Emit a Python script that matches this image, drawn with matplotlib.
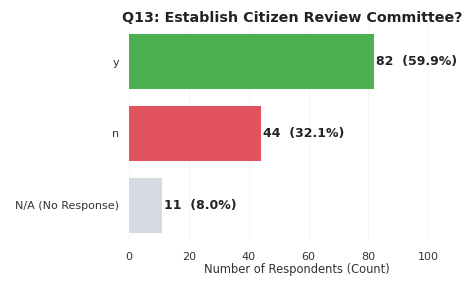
import matplotlib.pyplot as plt

categories = ['y', 'n', 'N/A (No Response)']
counts = [82, 44, 11]
percents = [59.9, 32.1, 8.0]
colors = ['#4caf50', '#e0525e', '#d6d9e2']
xticks = [0, 20, 40, 60, 80, 100]

fig = plt.figure(figsize=(4.72, 2.82), dpi=100)
ax = fig.add_axes([0.2733, 0.1454, 0.71, 0.7624])

ypos = list(range(len(categories)))
ax.barh(ypos, counts, height=0.77, color=colors)
ax.set_yticks(ypos)
ax.set_yticklabels(categories, fontsize=8, color='#333333')
ax.set_ylim(2.5, -0.5)
ax.set_xlim(0, 112)
ax.set_xticks(xticks)
ax.tick_params(axis='x', labelsize=8, colors='#333333', length=0, pad=8)
ax.tick_params(axis='y', length=0, pad=7)
ax.grid(axis='x', color='#f5f5f5', linewidth=0.6)
ax.set_axisbelow(True)
for s in ax.spines.values():
    s.set_visible(False)

for i, (c, p) in enumerate(zip(counts, percents)):
    ax.annotate(f'{c}  ({p:.1f}%)', xy=(c, i), xytext=(1.5, 0), textcoords='offset points',
                va='center', ha='left', fontsize=9, fontweight='bold', color='#222222')

ax.set_xlabel('Number of Respondents (Count)', fontsize=8.3, color='#333333', labelpad=1)
ax.set_title('Q13: Establish Citizen Review Committee?', fontsize=10.3, fontweight='bold',
             color='#222222', pad=3, x=0.488)

fig.savefig('out.png', dpi=100)
